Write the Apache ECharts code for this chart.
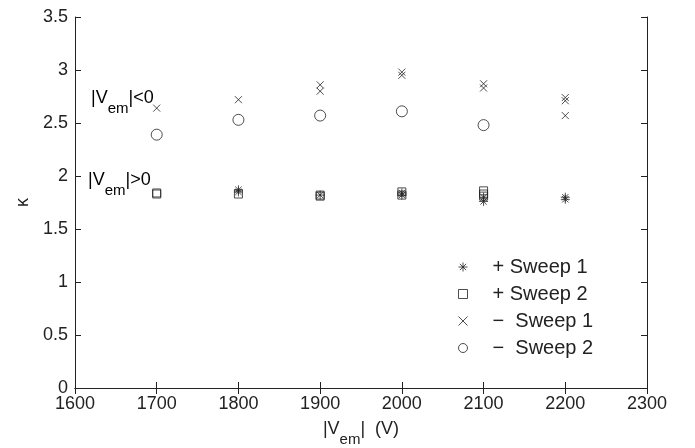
<!DOCTYPE html>
<html>
<head>
<meta charset="utf-8">
<script src="https://cdn.jsdelivr.net/npm/echarts@6/dist/echarts.min.js"></script>
<style>
  html, body { margin: 0; padding: 0; background: #fff; }
  #main { width: 695px; height: 448px; }
</style>
</head>
<body>
<div id="main"></div>
<script>
// [|Vem| (V), kappa]
const plusSweep1 = [[1800, 1.87], [1800, 1.85], [1900, 1.82], [2000, 1.84], [2000, 1.82], [2100, 1.80], [2100, 1.76], [2200, 1.80], [2200, 1.78]];
const plusSweep2 = [[1700, 1.84], [1700, 1.83], [1800, 1.83], [1900, 1.81], [1900, 1.82], [2000, 1.85], [2000, 1.82], [2100, 1.86], [2100, 1.83], [2100, 1.81]];
const minusSweep1 = [[1700, 2.64], [1800, 2.72], [1900, 2.86], [1900, 2.80], [2000, 2.98], [2000, 2.95], [2100, 2.87], [2100, 2.83], [2200, 2.74], [2200, 2.71], [2200, 2.57]];
const minusSweep2 = [[1700, 2.39], [1800, 2.53], [1900, 2.57], [2000, 2.61], [2100, 2.48]];
const seriesNames = ['+ Sweep 1', '+ Sweep 2', '\u2212  Sweep 1', '\u2212  Sweep 2'];

const ink = '#222';
const font = 'Liberation Sans, Arial, sans-serif';
const asterisk = 'path://M5,0L5,10M0,5L10,5M1.5,1.5L8.5,8.5M8.5,1.5L1.5,8.5';
const cross = 'path://M0,0L10,10M10,0L0,10';

const richSub = {
  a: { fontSize: 18, lineHeight: 20, verticalAlign: 'top', color: ink, fontFamily: font },
  s: { fontSize: 15, lineHeight: 16, verticalAlign: 'top', padding: [12, 0, 0, 0], color: ink, fontFamily: font }
};

const axisBase = {
  type: 'value',
  axisLine: { show: true, lineStyle: { color: ink, width: 1 } },
  axisTick: { show: true, inside: true, length: 6, lineStyle: { color: ink } },
  splitLine: { show: false },
};

function scatterItem(name, data, symbol, size) {
  return {
    name: name,
    type: 'scatter',
    data: data,
    symbol: symbol,
    symbolSize: size,
    itemStyle: { color: 'rgba(0,0,0,0)', borderColor: ink, borderWidth: 1 },
    emphasis: { disabled: true },
  };
}

var myChart = echarts.init(document.getElementById('main'));
var option = {
  animation: false,
  backgroundColor: '#fff',
  grid: { left: 75, top: 17, right: 48, bottom: 60, containLabel: false, outerBoundsMode: 'none' },
  legend: {
    orient: 'vertical',
    left: 453,
    top: 252,
    itemWidth: 9,
    itemHeight: 9,
    itemGap: 7,
    selectedMode: false,
    itemStyle: { borderWidth: 1 },
    textStyle: { fontSize: 20, lineHeight: 20, color: ink, fontFamily: font, padding: [0, 0, 0, 20] },
    data: seriesNames,
  },
  xAxis: [
    Object.assign({}, axisBase, {
      position: 'bottom',
      min: 1600, max: 2300, interval: 100,
      axisLabel: { fontSize: 18, color: ink, fontFamily: font, margin: 7, formatter: (v) => String(v) },
      name: '{a||V}{s|em}{a||  (V)}',
      nameLocation: 'middle',
      nameGap: 32,
      nameTextStyle: { rich: richSub },
    }),
    Object.assign({}, axisBase, {
      position: 'top',
      min: 1600, max: 2300, interval: 100,
      axisLabel: { show: false },
    }),
  ],
  yAxis: [
    Object.assign({}, axisBase, {
      position: 'left',
      min: 0, max: 3.5, interval: 0.5,
      axisLabel: { fontSize: 18, color: ink, fontFamily: font, margin: 7 },
      name: '\u03ba',
      nameLocation: 'middle',
      nameGap: 43,
      nameTextStyle: { fontSize: 18, color: ink, fontFamily: font },
    }),
    Object.assign({}, axisBase, {
      position: 'right',
      min: 0, max: 3.5, interval: 0.5,
      axisLabel: { show: false },
    }),
  ],
  graphic: [
    {
      type: 'text', left: 91, top: 89,
      style: { text: '{a||V}{s|em}{a||<0}', rich: richSub },
    },
    {
      type: 'text', left: 88, top: 171,
      style: { text: '{a||V}{s|em}{a||>0}', rich: richSub },
    },
  ],
  series: [
    scatterItem(seriesNames[0], plusSweep1, asterisk, 9),
    scatterItem(seriesNames[1], plusSweep2, 'rect', 8),
    scatterItem(seriesNames[2], minusSweep1, cross, 7),
    scatterItem(seriesNames[3], minusSweep2, 'circle', 11),
  ],
};
option && myChart.setOption(option);
</script>
</body>
</html>
